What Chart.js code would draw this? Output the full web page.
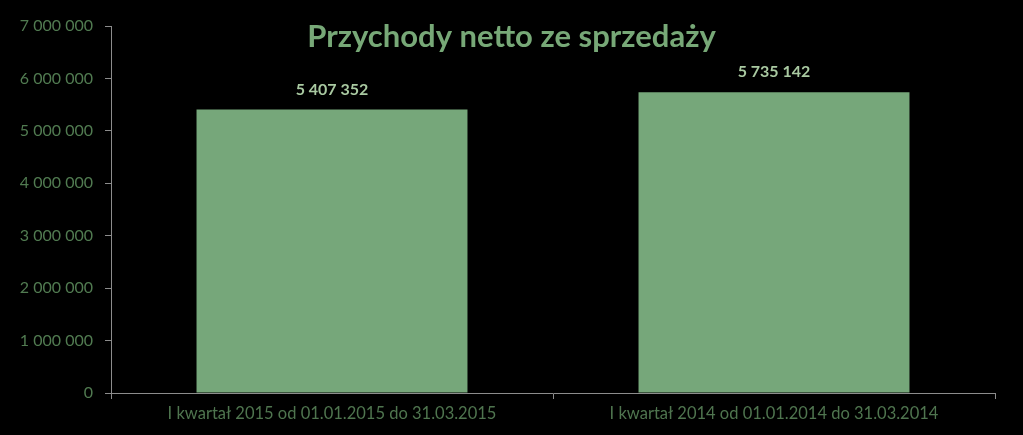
<!DOCTYPE html>
<html lang="pl">
<head>
  <meta charset="UTF-8" />
  <title>Przychody netto ze sprzedaży</title>
  <script src="https://cdn.jsdelivr.net/npm/chart.js"></script>
  <style>
    html, body { margin: 0; padding: 0; background: #000; }
    #box { width: 1023px; height: 435px; position: relative; }
  </style>
</head>
<body>
  <div id="box"><canvas id="chart"></canvas></div>

  <script>
    // dane
    const tytul = 'Przychody netto ze sprzedaży';
    const kategorie = ['I kwartał 2015 od 01.01.2015 do 31.03.2015', 'I kwartał 2014 od 01.01.2014 do 31.03.2014'];
    const przychody = [5407352, 5735142];
    const osY = { min: 0, max: 7000000, krok: 1000000 };

    // 1234567 -> "1 234 567"
    const formatuj = v => String(Math.round(v)).replace(/\B(?=(\d{3})+(?!\d))/g, ' ');

    // czarne tło, tytuł i etykiety danych
    const dodatki = {
      id: 'dodatki',
      beforeDraw(chart) {
        const c = chart.ctx;
        c.save();
        c.fillStyle = '#000';
        c.fillRect(0, 0, chart.width, chart.height);
        c.restore();
      },
      afterDatasetsDraw(chart) {
        const c = chart.ctx;
        c.save();
        c.textAlign = 'center';
        c.textBaseline = 'middle';
        c.fillStyle = '#a9c9a1';
        c.font = 'bold 16px Lato, "Open Sans", sans-serif';
        chart.getDatasetMeta(0).data.forEach((bar, i) => {
          c.fillText(formatuj(przychody[i]), bar.x, bar.y - 20);
        });
        c.fillStyle = '#77a877';
        c.font = 'bold 31px Lato, "Open Sans", sans-serif';
        c.fillText(tytul, chart.width / 2, 37);
        c.restore();
      }
    };

    new Chart(document.getElementById('chart'), {
      type: 'bar',
      data: {
        labels: kategorie,
        datasets: [{
          data: przychody,
          backgroundColor: '#76a77a',
          borderWidth: 0,
          barPercentage: 0.613,
          categoryPercentage: 1
        }]
      },
      options: {
        responsive: true,
        maintainAspectRatio: false,
        animation: false,
        layout: { padding: { top: 26, right: 28, left: 0, bottom: 0 } },
        plugins: {
          legend: { display: false },
          tooltip: { enabled: false }
        },
        scales: {
          x: {
            grid: { drawOnChartArea: false, color: '#8c8c8c', tickLength: 6 },
            border: { color: '#8c8c8c', width: 1 },
            ticks: {
              color: '#4f754f',
              font: { family: 'Lato, "Open Sans", sans-serif', size: 16.5 },
              padding: 5,
              maxRotation: 0
            },
            afterFit: s => { s.height = 42; }
          },
          y: {
            min: osY.min,
            max: osY.max,
            grid: { drawOnChartArea: false, color: '#8c8c8c', tickLength: 6 },
            border: { color: '#8c8c8c', width: 1 },
            ticks: {
              stepSize: osY.krok,
              color: '#517b51',
              font: { family: 'Lato, "Open Sans", sans-serif', size: 16 },
              padding: 12,
              callback: v => formatuj(v)
            },
            afterFit: s => { s.width = 111; }
          }
        }
      },
      plugins: [dodatki]
    });
  </script>
</body>
</html>
